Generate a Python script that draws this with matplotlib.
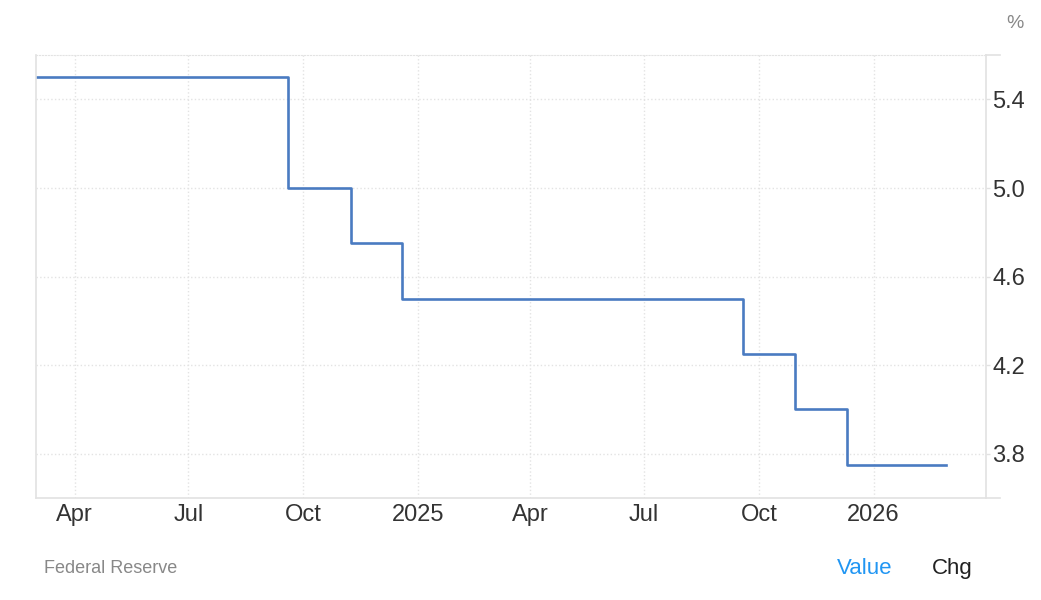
import pandas as pd
import matplotlib
matplotlib.use('Agg')
import matplotlib.pyplot as plt
from matplotlib.lines import Line2D

plt.rcParams['font.family'] = ['Liberation Sans', 'DejaVu Sans']

# datos: tasa de fondos federales (%)
fechas = pd.to_datetime(['2024-03-01', '2024-09-19', '2024-11-08', '2024-12-19',
                         '2025-09-18', '2025-10-30', '2025-12-11', '2026-02-28'])
tasa = [5.5, 5.0, 4.75, 4.5, 4.25, 4.0, 3.75, 3.75]

x_ticks = pd.to_datetime(['2024-04-01', '2024-07-01', '2024-10-01', '2025-01-01',
                          '2025-04-01', '2025-07-01', '2025-10-01', '2026-01-01'])
x_labels = ['Apr', 'Jul', 'Oct', '2025', 'Apr', 'Jul', 'Oct', '2026']
y_ticks = [3.8, 4.2, 4.6, 5.0, 5.4]

fig = plt.figure(figsize=(10.41, 6), dpi=100)
ax = fig.add_axes([0.0346, 0.17, 0.9126, 0.738])

ax.step(fechas, tasa, where='post', color='#4a7bc1', linewidth=1.9)

ax.set_xlim(pd.Timestamp('2024-03-01'), pd.Timestamp('2026-04-01'))
ax.set_ylim(3.6, 5.6)
ax.set_xticks(x_ticks)
ax.set_xticklabels(x_labels)
ax.set_yticks(y_ticks)
ax.set_yticklabels(['%.1f' % v for v in y_ticks])

ax.yaxis.tick_right()
ax.tick_params(axis='x', length=0, pad=4, labelsize=17, labelcolor='#333333')
ax.tick_params(axis='y', length=3, width=1, color='#e2e2e2', pad=1.5,
               labelsize=17, labelcolor='#333333')

ax.grid(True, linestyle=':', color='#e3e3e3', linewidth=1)
for lado in ['left', 'right', 'bottom']:
    ax.spines[lado].set_color('#e2e2e2')
    ax.spines[lado].set_linewidth(1.2)
ax.spines['top'].set_color('#e3e3e3')
ax.spines['top'].set_linestyle(':')

# prolongacion de la linea inferior a la derecha
ax.add_line(Line2D([1.0, 1.015], [0, 0], transform=ax.transAxes,
                   color='#e2e2e2', linewidth=1.2, clip_on=False))
ax.add_line(Line2D([1.0, 1.015], [1, 1], transform=ax.transAxes,
                   color='#e2e2e2', linewidth=1.2, clip_on=False))

fig.text(0.975, 0.96, '%', fontsize=14, color='#888888', ha='center', va='center')
fig.text(0.042, 0.052, 'Federal Reserve', fontsize=13, color='#888888',
         ha='left', va='center')
fig.text(0.831, 0.053, 'Value', fontsize=16, color='#2196f3', ha='center', va='center')
fig.text(0.915, 0.053, 'Chg', fontsize=16, color='#222222', ha='center', va='center')

fig.savefig('out.png', dpi=100)
